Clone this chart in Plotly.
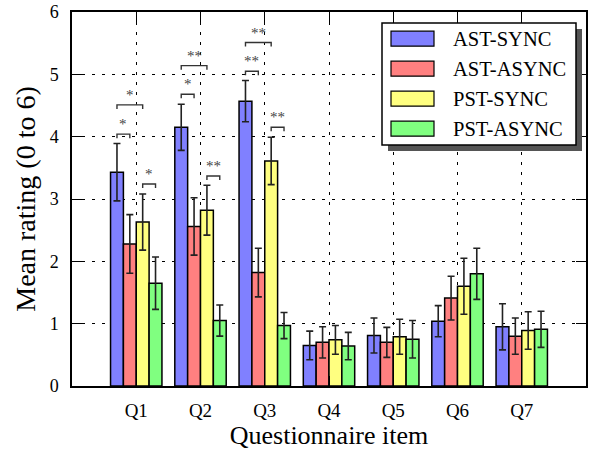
import plotly.graph_objects as go

categories = ["Q1", "Q2", "Q3", "Q4", "Q5", "Q6", "Q7"]
series_names = ["AST-SYNC", "AST-ASYNC", "PST-SYNC", "PST-ASYNC"]
series_colors = ["#8080ff", "#ff8080", "#ffff80", "#80ff80"]

ast_sync = [3.43, 4.15, 4.57, 0.65, 0.81, 1.04, 0.95]
ast_sync_err = [0.46, 0.37, 0.33, 0.23, 0.28, 0.25, 0.37]
ast_async = [2.28, 2.56, 1.82, 0.70, 0.70, 1.41, 0.80]
ast_async_err = [0.47, 0.46, 0.39, 0.25, 0.24, 0.35, 0.29]
pst_sync = [2.63, 2.82, 3.61, 0.74, 0.79, 1.60, 0.89]
pst_sync_err = [0.45, 0.40, 0.38, 0.23, 0.28, 0.45, 0.30]
pst_async = [1.65, 1.05, 0.97, 0.64, 0.75, 1.80, 0.91]
pst_async_err = [0.42, 0.25, 0.21, 0.22, 0.30, 0.41, 0.29]

values = [ast_sync, ast_async, pst_sync, pst_async]
errors = [ast_sync_err, ast_async_err, pst_sync_err, pst_async_err]

# significance brackets: (question index, series a, series b, height, label)
sig_question = [0, 0, 0, 1, 1, 1, 2, 2, 2]
sig_from = [0, 0, 2, 0, 0, 2, 0, 0, 2]
sig_to = [1, 2, 3, 1, 2, 3, 1, 2, 3]
sig_height = [4.04, 4.51, 3.24, 4.68, 5.14, 3.37, 5.05, 5.51, 4.15]
sig_label = ["*", "*", "*", "*", "**", "**", "**", "**", "**"]

y_ticks = [0, 1, 2, 3, 4, 5, 6]

FONT = "Liberation Serif"
W, H = 593, 454
ML, MT = 72, 12
PW, PH = 514, 374
MR, MB = W - ML - PW, H - MT - PH

x_pos = list(range(1, len(categories) + 1))
n_series = len(series_names)
bar_w = 0.8 / n_series

fig = go.Figure()
for name, col, vals, errs in zip(series_names, series_colors, values, errors):
    fig.add_trace(go.Bar(
        x=x_pos, y=vals, name=name,
        marker=dict(color=col, line=dict(color="#000000", width=1.5)),
        error_y=dict(type="data", array=errs, visible=True,
                     color="#222222", thickness=1.6, width=3.5),
        showlegend=False,
    ))

# significance brackets
drop = 0.065
for q, a, b, h, lab in zip(sig_question, sig_from, sig_to, sig_height, sig_label):
    xa = x_pos[q] + (a - (n_series - 1) / 2) * bar_w
    xb = x_pos[q] + (b - (n_series - 1) / 2) * bar_w
    fig.add_trace(go.Scatter(
        x=[xa, xa, xb, xb], y=[h - drop, h, h, h - drop],
        mode="lines", line=dict(color="#333333", width=1.4),
        showlegend=False, hoverinfo="skip"))
    fig.add_annotation(x=(xa + xb) / 2, y=h, text=lab, showarrow=False,
                       yanchor="bottom", xanchor="center", yshift=0,
                       font=dict(family=FONT, size=15, color="#444444"))

# custom legend (box with drop shadow); pixel positions -> paper coords
def px_x(p):
    return (p - ML) / PW

def px_y(p):
    return (MT + PH - p) / PH

lx0, lx1, ly0, ly1 = 382, 576, 23, 145
sh = 6
fig.add_shape(type="rect", xref="paper", yref="paper",
              x0=px_x(lx0 + sh), x1=px_x(lx1 + sh), y0=px_y(ly1 + sh), y1=px_y(ly0 + sh),
              fillcolor="#555555", line=dict(width=0), layer="above")
fig.add_shape(type="rect", xref="paper", yref="paper",
              x0=px_x(lx0), x1=px_x(lx1), y0=px_y(ly1), y1=px_y(ly0),
              fillcolor="#ffffff", line=dict(color="#000000", width=1.5), layer="above")
row_y = [38.7, 68.7, 98.7, 128.7]
for name, col, ry in zip(series_names, series_colors, row_y):
    fig.add_shape(type="rect", xref="paper", yref="paper",
                  x0=px_x(391), x1=px_x(434), y0=px_y(ry + 7.5), y1=px_y(ry - 7.5),
                  fillcolor=col, line=dict(color="#000000", width=1.2), layer="above")
    fig.add_annotation(xref="paper", yref="paper", x=px_x(451), y=px_y(ry),
                       text=name, showarrow=False, xanchor="left", yanchor="middle",
                       font=dict(family=FONT, size=20.5, color="#000000"))

grid_dash = "3px,7px"
fig.update_layout(
    width=W, height=H,
    margin=dict(l=ML, r=MR, t=MT, b=MB, autoexpand=False),
    paper_bgcolor="#ffffff", plot_bgcolor="#ffffff",
    barmode="group", bargap=0.2, bargroupgap=0.0,
    font=dict(family=FONT, color="#000000"),
    xaxis=dict(
        range=[0, len(categories) + 1], tickvals=x_pos, ticktext=categories,
        tickfont=dict(family=FONT, size=19, color="#000000"),
        ticks="inside", ticklen=10, tickwidth=1.2, tickcolor="#000000",
        ticklabelstandoff=6,
        showline=True, linecolor="#000000", linewidth=1.5, mirror="ticks",
        showgrid=True, gridcolor="#000000", gridwidth=1, griddash=grid_dash,
        zeroline=False, automargin=False,
        title=dict(text="Questionnaire item", font=dict(family=FONT, size=26, color="#000000"),
                   standoff=6),
    ),
    yaxis=dict(
        range=[0, 6], tickvals=y_ticks,
        tickfont=dict(family=FONT, size=18, color="#000000"),
        ticks="inside", ticklen=10, tickwidth=1.2, tickcolor="#000000",
        ticklabelstandoff=8,
        showline=True, linecolor="#000000", linewidth=1.5, mirror="ticks",
        showgrid=True, gridcolor="#000000", gridwidth=1, griddash=grid_dash,
        zeroline=False, automargin=False,
        title=dict(text="Mean rating (0 to 6)", font=dict(family=FONT, size=28, color="#000000"),
                   standoff=6),
    ),
)

fig.write_html("out.html", config={"displayModeBar": False},
               post_script="document.body.style.margin='0px';")
